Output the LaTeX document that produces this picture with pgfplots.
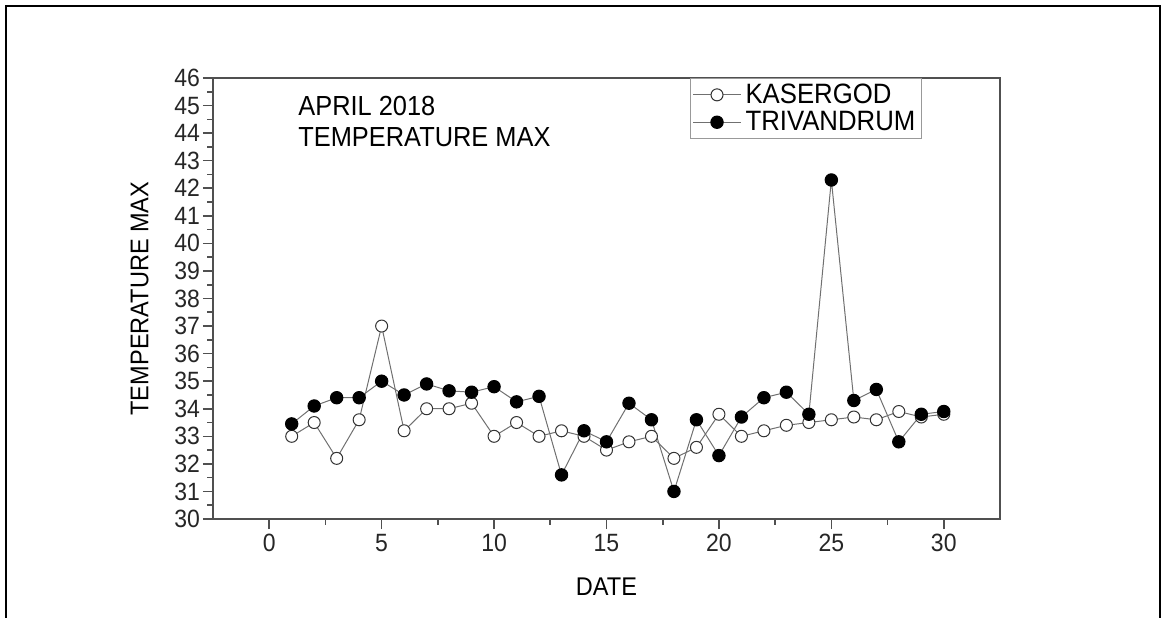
\documentclass[border=0pt]{standalone}
\usepackage{pgfplots}
\pgfplotsset{compat=1.18}
\usepackage{fontspec}
\setmainfont{Liberation Sans}
\newfontfamily\lblfont[FakeStretch=0.92]{Liberation Sans}

\definecolor{axgray}{HTML}{505050}
\definecolor{lngray}{HTML}{707070}

\pgfplotstableread{
day kas triv
1  33.0 33.45
2  33.5 34.1
3  32.2 34.4
4  33.6 34.4
5  37.0 35.0
6  33.2 34.5
7  34.0 34.9
8  34.0 34.65
9  34.2 34.6
10 33.0 34.8
11 33.5 34.25
12 33.0 34.45
13 33.2 31.6
14 33.0 33.2
15 32.5 32.8
16 32.8 34.2
17 33.0 33.6
18 32.2 31.0
19 32.6 33.6
20 33.8 32.3
21 33.0 33.7
22 33.2 34.4
23 33.4 34.6
24 33.5 33.8
25 33.6 42.3
26 33.7 34.3
27 33.6 34.7
28 33.9 32.8
29 33.7 33.8
30 33.8 33.9
}\tempdata

\begin{document}
\begin{tikzpicture}
\useasboundingbox (0,0) rectangle (581.5bp,309bp);
% outer frame (open at the bottom)
\draw[black, line width=1.1bp] (3bp,0) -- (3bp,306bp) -- (580bp,306bp) -- (580bp,0);
\begin{axis}[
  at={(106.5bp,49.5bp)}, anchor=south west,
  scale only axis, width=393.5bp, height=220.5bp,
  xmin=-2.5, xmax=32.5, ymin=30, ymax=46,
  xtick={0,5,...,30}, ytick={30,31,...,46},
  minor x tick num=1, minor y tick num=1,
  tick align=outside, xtick pos=bottom, ytick pos=left,
  major tick length=5bp, minor tick length=2.8bp,
  axis line style={axgray, line width=1bp},
  every tick/.style={axgray, line width=0.8bp},
  /pgf/number format/assume math mode=true,
  ticklabel style={font=\lblfont\fontsize{12.5bp}{14bp}\selectfont, text=black!85},
  xticklabel style={yshift=1bp},
  yticklabel style={xshift=2bp},
  xlabel={DATE}, ylabel={TEMPERATURE MAX},
  label style={font=\lblfont\fontsize{12.8bp}{15bp}\selectfont},
  xlabel style={yshift=-6bp},
  ylabel style={yshift=6bp},
  legend style={at={(0.606,1)}, anchor=north west, draw=gray!80, line width=0.6bp,
    inner xsep=1bp, inner ysep=0.5bp, row sep=-1.5bp,
    font=\lblfont\fontsize{14bp}{14bp}\selectfont},
  legend cell align=left,
  legend image code/.code={%
    \draw[#1, mark repeat=2, mark phase=2] plot coordinates {(0bp,0bp) (12bp,0bp) (24bp,0bp)};},
  clip=false,
]
\addplot[lngray, line width=0.5bp, mark=*, mark size=3bp,
  mark options={fill=white, draw=black!80, line width=0.5bp}]
  table[x=day, y=kas] {\tempdata};
\addlegendentry{KASERGOD}
\addplot[lngray, line width=0.5bp, mark=*, mark size=3.1bp,
  mark options={fill=black, draw=black, line width=0.5bp}]
  table[x=day, y=triv] {\tempdata};
\addlegendentry{TRIVANDRUM}
\node[anchor=base west, inner sep=0pt, font=\lblfont\fontsize{13.8bp}{16bp}\selectfont]
  at (rel axis cs:0.108,0.916) {APRIL 2018};
\node[anchor=base west, inner sep=0pt, font=\lblfont\fontsize{13.8bp}{16bp}\selectfont]
  at (rel axis cs:0.108,0.8445) {TEMPERATURE MAX};
\end{axis}
\end{tikzpicture}
\end{document}
